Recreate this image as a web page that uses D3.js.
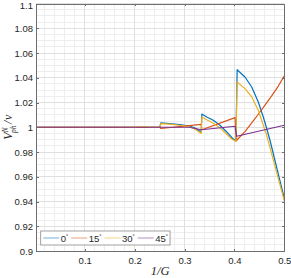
<!DOCTYPE html>
<meta charset="utf-8">
<head>
    <title>Vph</title>
</head>

<style>

body { margin: 0; background: #fff; }

.line {
    fill: none;
    stroke-width: 1.2;
    stroke-linejoin: round;
}

.axis path,
.axis line {
  fill: none;
  stroke: #6e6e6e;
  shape-rendering: crispEdges;
}

.axis text {
  font: 9.5px "Liberation Sans", Arial, sans-serif;
  fill: #262626;
}

.grid line { shape-rendering: crispEdges; }

</style>
<body>
<script src="https://cdn.jsdelivr.net/npm/d3@7/dist/d3.min.js"></script>
<script>

// series values (x = 1/G)
var g0  = [0.0024, 0.2505, 0.2525, 0.27, 0.29, 0.31, 0.32, 0.3335, 0.3348, 0.3445, 0.3577, 0.3711, 0.3846, 0.3946, 0.4030, 0.4055, 0.4212, 0.4347, 0.4479, 0.4579, 0.4647, 0.4713, 0.5];
var v0  = [1, 1, 1.0035, 1.003, 1.0022, 1.001, 0.9995, 0.9962, 1.0107, 1.0083, 1.0056, 1.0016, 0.9962, 0.9917, 0.9888, 1.0465, 1.0406, 1.0325, 1.0204, 1.0083, 0.999, 0.9895, 0.9425];

var g15 = [0.0024, 0.2505, 0.2525, 0.3335, 0.3348, 0.4012, 0.4046, 0.4212, 0.4347, 0.4479, 0.4613, 0.4747, 0.4880, 0.5];
var v15 = [1, 1, 0.999, 1.0024, 0.998, 1.0078, 0.9895, 0.9965, 1.0035, 1.0105, 1.0178, 1.0254, 1.0333, 1.0415];

var g30 = [0.0024, 0.204, 0.206, 0.224, 0.226, 0.2505, 0.2525, 0.27, 0.29, 0.31, 0.32, 0.3335, 0.3348, 0.3445, 0.3577, 0.3711, 0.3846, 0.3946, 0.4030, 0.4055, 0.4212, 0.4347, 0.4479, 0.4579, 0.4647, 0.5];
var v30 = [1, 1, 1.0004, 1.0004, 1, 1, 1.003, 1.0025, 1.0016, 1.0003, 0.9988, 0.995, 1.0083, 1.006, 1.0033, 0.9995, 0.9943, 0.9905, 0.9885, 1.0365, 1.0312, 1.0245, 1.0137, 1.0016, 0.9935, 0.9405];

var g45 = [0.0024, 0.31, 0.3335, 0.4012, 0.4046, 0.5];
var v45 = [1, 1, 0.998, 1.0008, 0.9927, 1.0016];

var names  = ["0", "15", "30", "45"];
var colors = ["#0072BD", "#D95319", "#EDB120", "#7E2F8E"];

var xTicks = [0.1, 0.2, 0.3, 0.4, 0.5];
var yTicks = [0.9, 0.92, 0.94, 0.96, 0.98, 1, 1.02, 1.04, 1.06, 1.08, 1.1];

var series = [
  {name: names[0], g: g0,  v: v0},
  {name: names[1], g: g15, v: v15},
  {name: names[2], g: g30, v: v30},
  {name: names[3], g: g45, v: v45}
];

var margin = {top: 3.5, right: 6.7, bottom: 27, left: 36},
    width = 291 - margin.left - margin.right,
    height = 278 - margin.top - margin.bottom;

var x = d3.scaleLinear()
    .domain([0.0024, 0.5])
    .range([0, width]);

var y = d3.scaleLinear()
    .domain([0.9, 1.1])
    .range([height, 0]);

var line = d3.line()
    .x(function(d) { return x(d[0]); })
    .y(function(d) { return y(d[1]); });

var svg = d3.select("body").append("svg")
    .attr("width", 291)
    .attr("height", 278)
  .append("g")
    .attr("transform", "translate(" + margin.left + "," + margin.top + ")");

// grid, minor then major
var grid = svg.append("g").attr("class", "grid");

grid.selectAll(".minx")
    .data(d3.range(1, 25).map(function(i) { return i * 0.02; }))
  .enter().append("line")
    .attr("x1", function(d) { return x(d); })
    .attr("x2", function(d) { return x(d); })
    .attr("y1", 0).attr("y2", height)
    .style("stroke", "#eeeeee");

grid.selectAll(".miny")
    .data(d3.range(1, 40).map(function(i) { return 0.9 + i * 0.005; }))
  .enter().append("line")
    .attr("y1", function(d) { return y(d); })
    .attr("y2", function(d) { return y(d); })
    .attr("x1", 0).attr("x2", width)
    .style("stroke", "#eeeeee");

grid.selectAll(".majx")
    .data(xTicks)
  .enter().append("line")
    .attr("x1", function(d) { return x(d); })
    .attr("x2", function(d) { return x(d); })
    .attr("y1", 0).attr("y2", height)
    .style("stroke", "#e0e0e0");

grid.selectAll(".majy")
    .data(yTicks)
  .enter().append("line")
    .attr("y1", function(d) { return y(d); })
    .attr("y2", function(d) { return y(d); })
    .attr("x1", 0).attr("x2", width)
    .style("stroke", "#e0e0e0");

// curves
series.forEach(function(s, i) {
  svg.append("path")
      .datum(s.g.map(function(g, j) { return [g, s.v[j]]; }))
      .attr("class", "line")
      .style("stroke", colors[i])
      .attr("d", line);
});

// axes on all four sides, ticks pointing in
var fmt = function(d) { return +d.toFixed(2); };

svg.append("g")
    .attr("class", "axis")
    .attr("transform", "translate(0," + height + ")")
    .call(d3.axisBottom(x).tickValues(xTicks).tickFormat(fmt).tickSizeInner(-2.5).tickSizeOuter(0).tickPadding(6));

svg.append("g")
    .attr("class", "axis")
    .call(d3.axisTop(x).tickValues(xTicks).tickFormat("").tickSizeInner(-2.5).tickSizeOuter(0));

var yAxis = svg.append("g")
    .attr("class", "axis")
    .call(d3.axisLeft(y).tickValues(yTicks).tickFormat(fmt).tickSizeInner(-2.5).tickSizeOuter(0).tickPadding(3));

// keep the top label inside the window
yAxis.selectAll(".tick text")
    .filter(function(d) { return d === 1.1; })
    .attr("dy", "0.5em");

svg.append("g")
    .attr("class", "axis")
    .attr("transform", "translate(" + width + ",0)")
    .call(d3.axisRight(y).tickValues(yTicks).tickFormat("").tickSizeInner(-2.5).tickSizeOuter(0));

// axis labels
svg.append("text")
    .attr("x", width / 2)
    .attr("y", height + 24)
    .attr("text-anchor", "middle")
    .style("font", "italic 12.5px 'Liberation Serif', 'DejaVu Serif', serif")
    .style("fill", "#262626")
    .text("1/G");

var ylab = svg.append("text")
    .attr("transform", "rotate(-90)")
    .attr("x", -height / 2)
    .attr("y", -24)
    .attr("text-anchor", "middle")
    .style("font", "italic 12px 'Liberation Serif', 'DejaVu Serif', serif")
    .style("fill", "#262626");
ylab.append("tspan").text("V");
ylab.append("tspan").attr("dy", -4.5).style("font-size", "7.5px").text("N");
ylab.append("tspan").attr("dx", -5.5).attr("dy", 8).style("font-size", "7.5px").text("ph");
ylab.append("tspan").attr("dx", 1.5).attr("dy", -3.5).text("/");
ylab.append("tspan").attr("dx", 0.5).text("v");

// legend
var legend = svg.append("g")
    .attr("transform", "translate(" + (40.7 - margin.left) + "," + (231 - margin.top) + ")");

var box = legend.append("rect")
    .attr("height", 14)
    .style("fill", "#fff")
    .style("stroke", "#8a8a8a")
    .style("stroke-width", 0.8);

var cx = 2.5;
names.forEach(function(n, i) {
  legend.append("line")
      .attr("x1", cx).attr("x2", cx + 16)
      .attr("y1", 7).attr("y2", 7)
      .style("stroke", colors[i])
      .style("stroke-opacity", 0.55)
      .style("stroke-width", 1);
  var t = legend.append("text")
      .attr("x", cx + 17.5)
      .attr("y", 10.7)
      .style("font", "9.5px 'Liberation Sans', Arial, sans-serif")
      .style("fill", "#262626");
  t.append("tspan").text(n);
  t.append("tspan").attr("dy", -4).style("font-size", "5.5px").text("°");
  cx += 17.5 + t.node().getComputedTextLength() + 3;
});
box.attr("width", cx - 1);

</script>
